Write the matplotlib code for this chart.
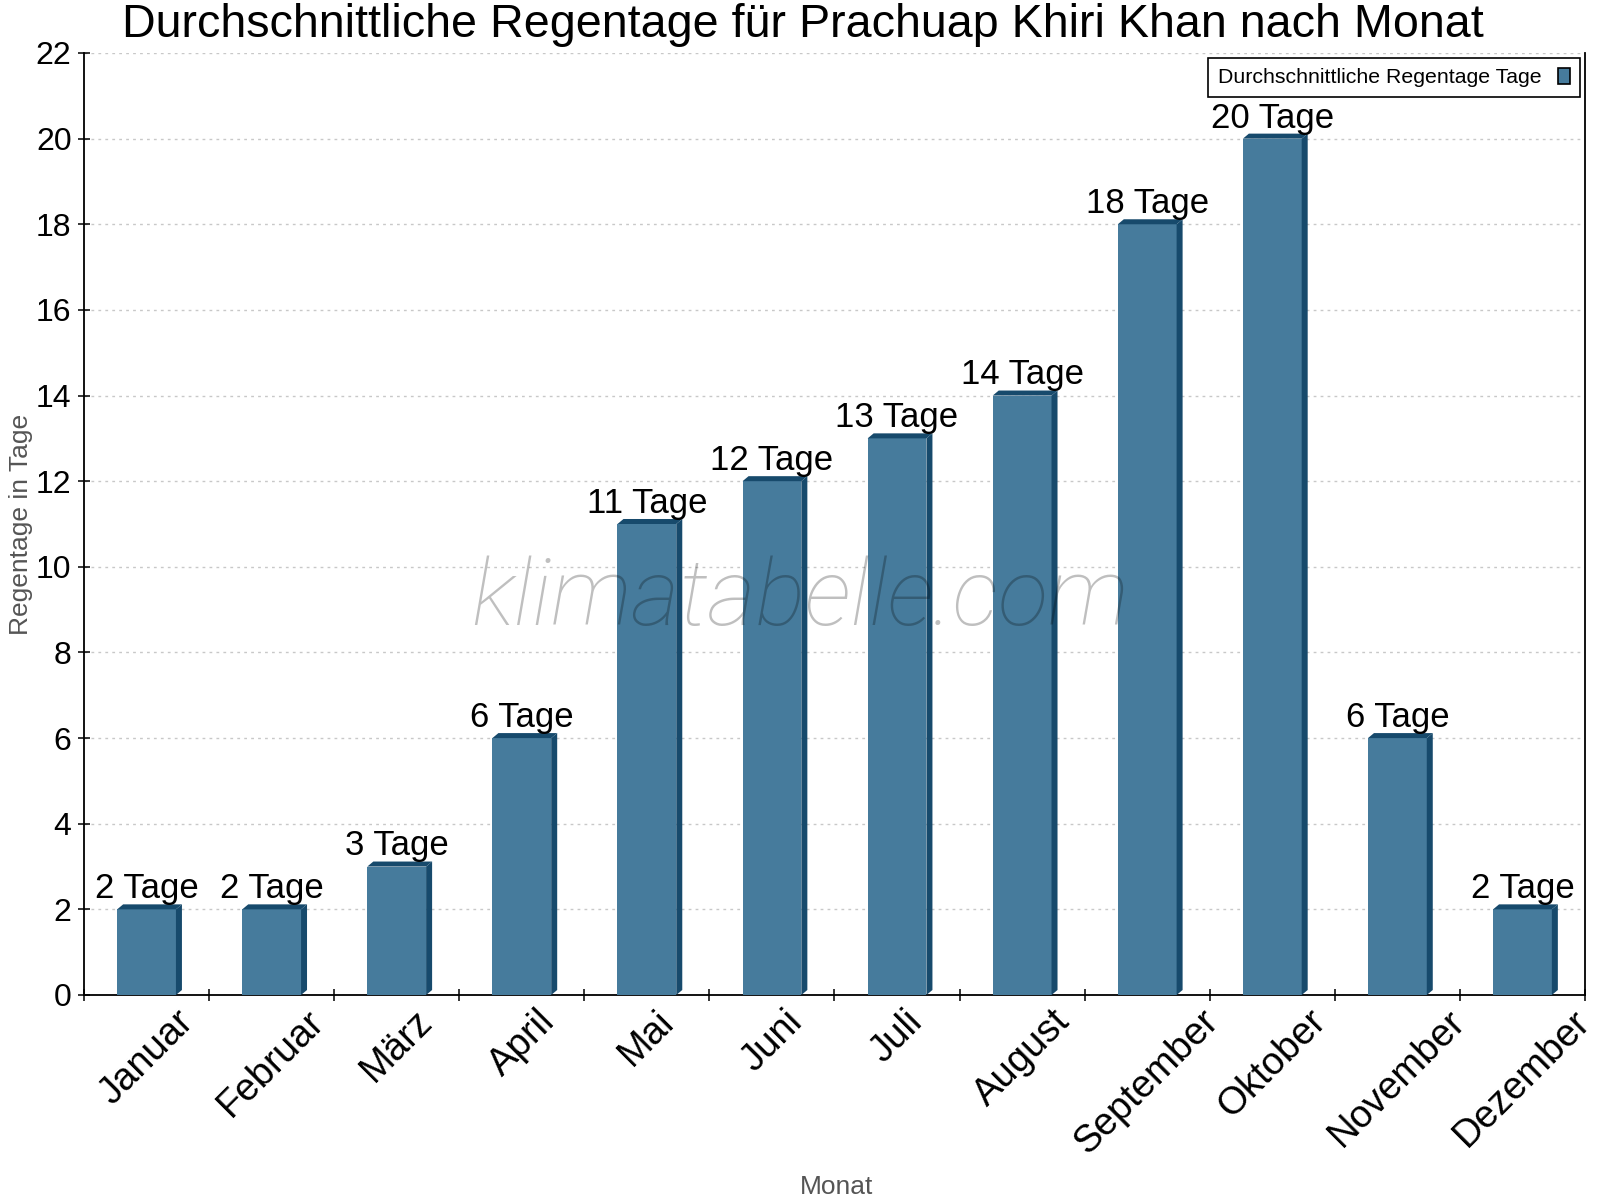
import matplotlib
matplotlib.use("Agg")
import matplotlib.pyplot as plt
from matplotlib.patches import Polygon, Patch
import numpy as np

plt.rcParams['font.family'] = ['Liberation Sans', 'DejaVu Sans']

# Daten
monate = ["Januar", "Februar", "März", "April", "Mai", "Juni", "Juli",
          "August", "September", "Oktober", "November", "Dezember"]
regentage = [2, 2, 3, 6, 11, 12, 13, 14, 18, 20, 6, 2]
y_ticks = list(range(0, 23, 2))

front_col = '#467b9c'
dark_col = '#174a6c'

fig = plt.figure(figsize=(16, 12), dpi=100, facecolor='white')
ax = fig.add_axes([84 / 1600, 1 - 995 / 1200, (1585 - 84) / 1600, (995 - 53) / 1200])

x = np.arange(len(monate))
w = 0.47
dx = 0.048   # Tiefe des 3D-Effekts in x
dy = 0.117   # Tiefe des 3D-Effekts in y

ax.bar(x, regentage, width=w, color=front_col, zorder=3)
for xi, v in zip(x, regentage):
    xl, xr = xi - w / 2, xi + w / 2
    # Seitenflaeche
    ax.add_patch(Polygon([(xr, 0), (xr + dx, dy), (xr + dx, v + dy), (xr, v)],
                         closed=True, facecolor=dark_col, edgecolor='none', zorder=3))
    # Deckflaeche
    ax.add_patch(Polygon([(xl, v), (xl + dx, v + dy), (xr + dx, v + dy), (xr, v)],
                         closed=True, facecolor=dark_col, edgecolor='none', zorder=3))
    ax.annotate(f"{v} Tage", xy=(xi, v), xytext=(0, 8), textcoords='offset points',
                ha='center', va='baseline', fontsize=25, color='black', zorder=5)

ax.set_xlim(-0.5, len(monate) - 0.5)
ax.set_ylim(0, 22)
ax.set_yticks(y_ticks)
ax.set_yticklabels([str(t) for t in y_ticks])

# Beschriftung mittig unter den Balken, Striche an den Kategoriegrenzen
ax.set_xticks(x)
ax.set_xticklabels(monate, rotation=45, ha='center', va='top')
ax.set_xticks(np.arange(-0.5, len(monate)), minor=True)

ax.tick_params(axis='both', which='both', direction='inout', length=8, width=1.1,
               colors='black')
ax.tick_params(axis='x', which='major', length=0, pad=6, labelsize=27.5)
ax.tick_params(axis='y', which='major', pad=5, labelsize=23)

ax.grid(axis='y', color='#c8c8c8', linestyle=(0, (2, 3)), linewidth=1, zorder=0)
ax.set_axisbelow(True)

for s in ['left', 'bottom', 'right']:
    ax.spines[s].set_linewidth(1.3)
    ax.spines[s].set_color('black')
ax.spines['top'].set_visible(False)

fig.text(21 / 1600, 1 - 524 / 1200, "Regentage in Tage", fontsize=19, color='#555555',
         rotation=90, ha='center', va='center')
fig.text(837 / 1600, 1 - 1187 / 1200, "Monat", fontsize=19, color='#555555',
         ha='center', va='center')

fig.text(803 / 1600, 1 - 37 / 1200, "Durchschnittliche Regentage für Prachuap Khiri Khan nach Monat",
         fontsize=33.6, ha='center', va='baseline')

# Wasserzeichen
fig.text(0.5, 1 - 625 / 1200, "klimatabelle.com", fontsize=67, family='Roboto',
         style='italic', weight='light', color='black', alpha=0.25,
         ha='center', va='baseline', zorder=10)

handle = Patch(facecolor=front_col, edgecolor='black', linewidth=1.2)
leg = ax.legend([handle], ["Durchschnittliche Regentage Tage"], loc='upper right',
                bbox_to_anchor=(0.9967, 0.9947), borderaxespad=0, fontsize=15.3,
                markerfirst=False, handlelength=0.58, handleheight=0.82,
                handletextpad=0.8, borderpad=0.45, fancybox=False,
                edgecolor='black', framealpha=1)
leg.get_frame().set_linewidth(1.2)

plt.savefig("out.png", dpi=100)
